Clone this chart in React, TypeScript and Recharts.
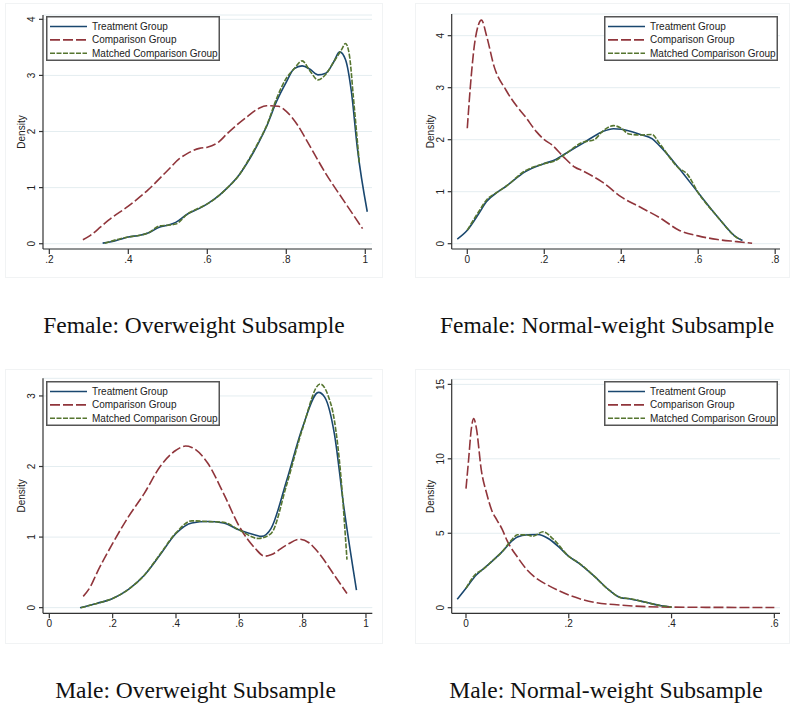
import React from 'react';
import { LineChart, Line, XAxis, YAxis, CartesianGrid, Legend } from 'recharts';

type P = { x: number; y: number };
const pts = (a: number[][]): P[] => a.map(([x, y]) => ({ x, y }));

// ---- Female: Overweight ----
const fOwTreat = pts([[0.335,0.01],[0.36,0.04],[0.38,0.08],[0.40,0.12],[0.43,0.15],[0.45,0.19],[0.48,0.30],[0.50,0.33],[0.52,0.38],[0.55,0.53],[0.58,0.63],[0.60,0.71],[0.63,0.86],[0.65,0.99],[0.68,1.22],[0.70,1.43],[0.73,1.80],[0.75,2.09],[0.775,2.53],[0.80,2.88],[0.82,3.12],[0.84,3.17],[0.86,3.11],[0.88,3.01],[0.90,3.04],[0.92,3.24],[0.935,3.42],[0.95,3.28],[0.965,2.70],[0.98,1.70],[1.005,0.57]]);
const fOwComp = pts([[0.285,0.07],[0.30,0.13],[0.33,0.30],[0.35,0.42],[0.40,0.67],[0.45,0.96],[0.50,1.31],[0.53,1.52],[0.55,1.61],[0.58,1.70],[0.60,1.72],[0.63,1.82],[0.65,1.96],[0.70,2.26],[0.73,2.41],[0.75,2.46],[0.78,2.45],[0.80,2.36],[0.83,2.10],[0.85,1.86],[0.90,1.25],[0.95,0.72],[0.993,0.27]]);
const fOwMatch = pts([[0.34,0.01],[0.38,0.09],[0.40,0.12],[0.43,0.15],[0.45,0.19],[0.48,0.32],[0.50,0.33],[0.52,0.35],[0.55,0.53],[0.58,0.64],[0.60,0.71],[0.63,0.86],[0.65,0.99],[0.68,1.22],[0.70,1.44],[0.73,1.82],[0.75,2.10],[0.775,2.58],[0.80,2.95],[0.82,3.12],[0.84,3.26],[0.86,3.08],[0.88,2.92],[0.90,3.02],[0.92,3.24],[0.94,3.46],[0.95,3.57],[0.96,3.35],[0.97,2.60],[0.985,1.43]]);

// ---- Female: Normal-weight ----
const fNwTreat = pts([[-0.026,0.09],[0,0.26],[0.03,0.58],[0.05,0.81],[0.08,1.0],[0.10,1.10],[0.15,1.38],[0.20,1.54],[0.23,1.62],[0.25,1.71],[0.30,1.93],[0.35,2.15],[0.38,2.21],[0.40,2.20],[0.45,2.10],[0.48,2.02],[0.50,1.88],[0.55,1.45],[0.60,0.98],[0.65,0.52],[0.70,0.12],[0.715,0.06]]);
const fNwComp = pts([[0,2.22],[0.01,3.2],[0.02,3.9],[0.037,4.3],[0.05,4.0],[0.07,3.4],[0.10,2.96],[0.13,2.63],[0.15,2.45],[0.18,2.15],[0.20,2.0],[0.22,1.9],[0.25,1.67],[0.28,1.47],[0.30,1.40],[0.33,1.28],[0.35,1.19],[0.40,0.90],[0.45,0.70],[0.50,0.50],[0.55,0.26],[0.60,0.15],[0.65,0.08],[0.70,0.04],[0.74,0.01]]);
const fNwMatch = pts([[0,0.26],[0.03,0.62],[0.05,0.84],[0.08,1.0],[0.10,1.10],[0.15,1.40],[0.20,1.54],[0.23,1.60],[0.25,1.70],[0.30,1.95],[0.33,2.0],[0.35,2.15],[0.38,2.27],[0.40,2.22],[0.42,2.11],[0.45,2.09],[0.48,2.10],[0.50,1.92],[0.55,1.45],[0.57,1.35],[0.60,0.98],[0.65,0.52],[0.70,0.12],[0.71,0.08]]);

// ---- Male: Overweight ----
const mOwTreat = pts([[0.097,0.0],[0.15,0.06],[0.20,0.13],[0.25,0.26],[0.30,0.46],[0.35,0.75],[0.40,1.05],[0.45,1.20],[0.50,1.22],[0.55,1.20],[0.60,1.10],[0.65,1.03],[0.67,1.01],[0.70,1.12],[0.75,1.81],[0.80,2.56],[0.85,3.05],[0.87,2.98],[0.90,2.47],[0.93,1.43],[0.97,0.25]]);
const mOwComp = pts([[0.107,0.16],[0.13,0.30],[0.15,0.49],[0.20,0.91],[0.25,1.29],[0.30,1.62],[0.35,2.0],[0.40,2.23],[0.43,2.29],[0.45,2.27],[0.50,2.05],[0.55,1.62],[0.60,1.15],[0.65,0.84],[0.68,0.73],[0.70,0.75],[0.75,0.89],[0.79,0.97],[0.82,0.92],[0.85,0.78],[0.90,0.46],[0.94,0.20]]);
const mOwMatch = pts([[0.10,0.0],[0.15,0.06],[0.20,0.13],[0.25,0.26],[0.30,0.46],[0.35,0.76],[0.40,1.06],[0.45,1.23],[0.50,1.22],[0.55,1.21],[0.60,1.10],[0.66,0.98],[0.70,1.05],[0.75,1.75],[0.80,2.54],[0.855,3.17],[0.88,3.01],[0.90,2.66],[0.92,1.90],[0.94,0.68]]);

// ---- Male: Normal-weight ----
const mNwTreat = pts([[-0.017,0.56],[0,1.3],[0.02,2.2],[0.03,2.5],[0.05,3.1],[0.07,3.75],[0.09,4.5],[0.10,4.75],[0.12,4.9],[0.14,4.92],[0.16,4.65],[0.18,4.1],[0.20,3.45],[0.22,2.98],[0.25,2.1],[0.28,1.14],[0.30,0.69],[0.32,0.58],[0.35,0.36],[0.38,0.13],[0.40,0.04]]);
const mNwComp = pts([[0,8.0],[0.005,9.9],[0.01,11.9],[0.015,12.7],[0.02,12.1],[0.03,9.2],[0.04,7.7],[0.05,6.55],[0.06,5.9],[0.07,5.3],[0.08,4.5],[0.10,3.4],[0.12,2.5],[0.14,1.9],[0.16,1.5],[0.20,0.85],[0.25,0.36],[0.30,0.18],[0.35,0.07],[0.40,0.04],[0.50,0.02],[0.60,0.01]]);
const mNwMatch = pts([[0,1.3],[0.02,2.3],[0.03,2.5],[0.05,3.1],[0.07,3.75],[0.09,4.6],[0.10,4.9],[0.12,4.88],[0.13,4.8],[0.15,5.1],[0.17,4.6],[0.20,3.45],[0.22,3.0],[0.25,2.1],[0.28,1.14],[0.30,0.69],[0.32,0.6],[0.35,0.36],[0.38,0.13],[0.40,0.04]]);

// tick labels
const xTicksFOw = [0.2, 0.4, 0.6, 0.8, 1];
const xTicksFNw = [0, 0.2, 0.4, 0.6, 0.8];
const xTicksMOw = [0, 0.2, 0.4, 0.6, 0.8, 1];
const xTicksMNw = [0, 0.2, 0.4, 0.6];
const yTicksFOw = [0, 1, 2, 3, 4];
const yTicksFNw = [0, 1, 2, 3, 4];
const yTicksMOw = [0, 1, 2, 3];
const yTicksMNw = [0, 5, 10, 15];

const seriesNames = ['Treatment Group', 'Comparison Group', 'Matched Comparison Group'];
const titles = ['Female: Overweight Subsample', 'Female: Normal-weight Subsample', 'Male: Overweight Subsample', 'Male: Normal-weight Subsample'];

const NAVY = '#1a476f';
const MAROON = '#90353b';
const GREEN = '#55752f';
const SANS = '"Liberation Sans", Arial, sans-serif';
const SERIF = '"Liberation Serif", "Times New Roman", serif';

const fmtX = (v: number) => (v === 0 ? '0' : v === 1 ? '1' : String(v).replace(/^0/, ''));

const YTick = (props: any) => {
  const { x, y, payload } = props;
  const cx = x - 5;
  return (
    <text x={cx} y={y} transform={`rotate(-90 ${cx} ${y})`} textAnchor="middle" dominantBaseline="central" fontSize={10} fill="#222" fontFamily={SANS}>
      {payload.value}
    </text>
  );
};

const LegendBox = () => {
  const rows = [
    { c: NAVY, d: undefined },
    { c: MAROON, d: '10 3' },
    { c: GREEN, d: '5 1.5' },
  ];
  return (
    <svg width={175} height={46} style={{ display: 'block' }}>
      <rect x={0.75} y={0.75} width={172.5} height={43.5} fill="#fff" stroke="#555" strokeWidth={1.5} />
      {rows.map((r, i) => (
        <g key={i}>
          <line x1={4} x2={41} y1={10.5 + i * 13.4} y2={10.5 + i * 13.4} stroke={r.c} strokeWidth={1.6} strokeDasharray={r.d} />
          <text x={46} y={10.5 + i * 13.4} dominantBaseline="central" fontSize={10} fill="#222" fontFamily={SANS}>
            {seriesNames[i]}
          </text>
        </g>
      ))}
    </svg>
  );
};

type PanelProps = {
  left: number; top: number; width: number; height: number;
  margin: { top: number; right: number; bottom: number; left: number };
  xDomain: [number, number]; yDomain: [number, number];
  xTicks: number[]; yTicks: number[];
  treat: P[]; comp: P[]; match: P[];
  legendLeft: number; legendTop: number;
};

const Panel = (p: PanelProps) => {
  const plotLeft = p.margin.left + 30;
  const plotTop = p.margin.top;
  const plotBottom = p.height - p.margin.bottom - 25;
  const dens = { x: plotLeft - 21.5, y: (plotTop + plotBottom) / 2 };
  return (
    <div style={{ position: 'absolute', left: p.left, top: p.top }}>
      <LineChart width={p.width} height={p.height} margin={p.margin}>
        <CartesianGrid vertical={false} stroke="#e4edf0" strokeWidth={1} />
        <XAxis
          type="number" dataKey="x" domain={p.xDomain} allowDataOverflow ticks={p.xTicks}
          tickFormatter={fmtX} height={25} tickSize={5} tickMargin={2}
          axisLine={{ stroke: '#333', strokeWidth: 1.2 }} tickLine={{ stroke: '#333', strokeWidth: 1.2 }}
          tick={{ fontSize: 10, fill: '#222', fontFamily: SANS }} interval={0}
        />
        <YAxis
          type="number" domain={p.yDomain} allowDataOverflow ticks={p.yTicks} width={30}
          tickSize={4} tickMargin={2} interval={0}
          axisLine={{ stroke: '#333', strokeWidth: 1.2 }} tickLine={{ stroke: '#333', strokeWidth: 1.2 }}
          tick={<YTick />}
          label={{
            content: () => (
              <text x={dens.x} y={dens.y} transform={`rotate(-90 ${dens.x} ${dens.y})`} textAnchor="middle" dominantBaseline="central" fontSize={10} fill="#222" fontFamily={SANS}>
                Density
              </text>
            ),
          }}
        />
        <Legend
          layout="horizontal" verticalAlign="middle" align="center"
          content={() => <LegendBox />}
          wrapperStyle={{ left: p.legendLeft, top: p.legendTop, width: 175, height: 46 }}
        />
        <Line data={p.treat} dataKey="y" name={seriesNames[0]} type="monotone" stroke={NAVY} strokeWidth={1.6} dot={false} isAnimationActive={false} />
        <Line data={p.comp} dataKey="y" name={seriesNames[1]} type="monotone" stroke={MAROON} strokeWidth={1.6} strokeDasharray="10 3" dot={false} isAnimationActive={false} />
        <Line data={p.match} dataKey="y" name={seriesNames[2]} type="monotone" stroke={GREEN} strokeWidth={1.6} strokeDasharray="5 1.5" dot={false} isAnimationActive={false} />
      </LineChart>
    </div>
  );
};

const frame = (l: number, t: number, r: number, b: number) => (
  <div style={{ position: 'absolute', left: l, top: t, width: r - l, height: b - t, border: '1px solid #f1f3f4', boxSizing: 'border-box' }} />
);

export default function App() {
  return (
    <div style={{ position: 'absolute', left: 0, top: 0, width: 799, height: 713, background: '#fff', overflow: 'hidden' }}>
      {frame(5, 3, 383, 278)}
      {frame(415, 3, 790, 278)}
      {frame(5, 369, 383, 644)}
      {frame(415, 369, 790, 644)}
      <Panel
        left={0} top={0} width={390} height={290}
        margin={{ top: 15, right: 18, bottom: 16, left: 13 }}
        xDomain={[0.184, 1.017]} yDomain={[-0.094, 4.077]}
        xTicks={xTicksFOw} yTicks={yTicksFOw}
        treat={fOwTreat} comp={fOwComp} match={fOwMatch}
        legendLeft={46} legendTop={16}
      />
      <Panel
        left={400} top={0} width={399} height={290}
        margin={{ top: 14, right: 19, bottom: 16, left: 21.7 }}
        xDomain={[-0.0405, 0.8125]} yDomain={[-0.102, 4.417]}
        xTicks={xTicksFNw} yTicks={yTicksFNw}
        treat={fNwTreat} comp={fNwComp} match={fNwMatch}
        legendLeft={204} legendTop={16}
      />
      <Panel
        left={0} top={360} width={390} height={290}
        margin={{ top: 18.3, right: 17.7, bottom: 11.7, left: 13 }}
        xDomain={[-0.02, 1.02]} yDomain={[-0.08, 3.25]}
        xTicks={xTicksMOw} yTicks={yTicksMOw}
        treat={mOwTreat} comp={mOwComp} match={mOwMatch}
        legendLeft={46} legendTop={21}
      />
      <Panel
        left={400} top={360} width={399} height={290}
        margin={{ top: 19.3, right: 19, bottom: 11.7, left: 21.7 }}
        xDomain={[-0.0278, 0.611]} yDomain={[-0.376, 15.34]}
        xTicks={xTicksMNw} yTicks={yTicksMNw}
        treat={mNwTreat} comp={mNwComp} match={mNwMatch}
        legendLeft={204} legendTop={21}
      />
      <svg width={799} height={713} style={{ position: 'absolute', left: 0, top: 0, pointerEvents: 'none' }}>
        <text x={194} y={332.7} textAnchor="middle" fontSize={23.5} fill="#111" fontFamily={SERIF}>{titles[0]}</text>
        <text x={607} y={332.7} textAnchor="middle" fontSize={23.5} fill="#111" fontFamily={SERIF}>{titles[1]}</text>
        <text x={195.5} y={698} textAnchor="middle" fontSize={23.5} fill="#111" fontFamily={SERIF}>{titles[2]}</text>
        <text x={606} y={698} textAnchor="middle" fontSize={23.5} fill="#111" fontFamily={SERIF}>{titles[3]}</text>
      </svg>
    </div>
  );
}
